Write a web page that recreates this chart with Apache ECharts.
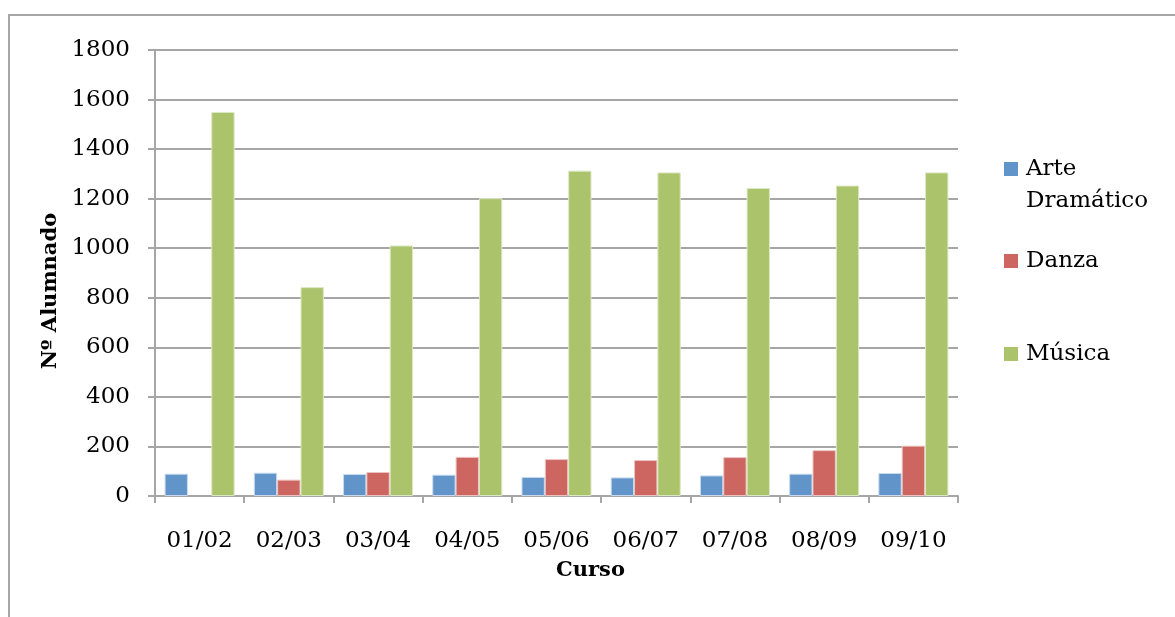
<!DOCTYPE html>
<html><head><meta charset="utf-8">
<script src="https://cdn.jsdelivr.net/npm/echarts@6/dist/echarts.min.js"></script>
<style>html,body{margin:0;padding:0;background:#fff}#c{width:1175px;height:617px}</style>
</head><body><div id="c"></div>
<script>
var categories = ['01/02','02/03','03/04','04/05','05/06','06/07','07/08','08/09','09/10'];
var arteDramatico = [90, 94, 89, 86, 77, 75, 83, 90, 93];
var danza = [null, 66, 97, 158, 149, 145, 157, 185, 203];
var musica = [1550, 843, 1011, 1202, 1313, 1306, 1243, 1253, 1306];
var yTicks = [0, 200, 400, 600, 800, 1000, 1200, 1400, 1600, 1800];

var FONT = 'DejaVu Serif';
var GRID = '#A6A6A6';
var chart = echarts.init(document.getElementById('c'));
var legends = [
  {data: ['Arte Dramático'], top: 121, lineHeight: 32},
  {data: ['Danza'], top: 247, lineHeight: 28},
  {data: ['Música'], top: 340, lineHeight: 28}
].map(function (l) {
  return {
    data: l.data, orient: 'vertical', left: 1004, top: l.top, padding: 0,
    itemWidth: 14, itemHeight: 14, icon: 'rect', selectedMode: false, itemGap: 0,
    itemStyle: {borderWidth: 0},
    formatter: function (n) { return n === 'Arte Dramático' ? '\nArte\nDramático' : n; },
    textStyle: {fontFamily: FONT, fontSize: 23, color: '#000', lineHeight: l.lineHeight, padding: [0, 0, 0, 3]}
  };
});
chart.setOption({
  animation: false,
  backgroundColor: '#fff',
  graphic: [{type: 'rect', shape: {x: 9, y: 15, width: 1300, height: 800}, style: {fill: 'none', stroke: GRID, lineWidth: 2}, silent: true}],
  grid: {left: 155, right: 217, top: 50, bottom: 121},
  legend: legends,
  xAxis: {
    type: 'category', data: categories,
    axisLine: {lineStyle: {color: GRID, width: 2}},
    axisTick: {show: true, length: 7, lineStyle: {color: GRID, width: 2}},
    axisLabel: {fontFamily: FONT, fontSize: 23, color: '#000', margin: 34},
    name: 'Curso', nameLocation: 'middle', nameGap: 64,
    nameTextStyle: {fontFamily: FONT, fontSize: 21, fontWeight: 'bold', color: '#000', padding: [0, 0, 0, 68]}
  },
  yAxis: {
    type: 'value', min: 0, max: 1800, interval: 200,
    axisLine: {show: true, lineStyle: {color: GRID, width: 2}},
    axisTick: {show: true, length: 7, lineStyle: {color: GRID, width: 2}},
    splitLine: {lineStyle: {color: GRID, width: 2}},
    axisLabel: {fontFamily: FONT, fontSize: 23, color: '#000', margin: 25,
      customValues: yTicks, formatter: function (v) { return String(v); }},
    name: 'Nº Alumnado', nameLocation: 'middle', nameGap: 90, nameRotate: 90,
    nameTextStyle: {fontFamily: FONT, fontSize: 21, fontWeight: 'bold', color: '#000', padding: [0, 36, 0, 0]}
  },
  series: [
    {name: 'Arte Dramático', type: 'bar', data: arteDramatico, barGap: '0%', barCategoryGap: '21.5%',
     itemStyle: {color: '#6195C9', borderColor: '#C9DAEE', borderWidth: 1}},
    {name: 'Danza', type: 'bar', data: danza, barGap: '0%', barCategoryGap: '21.5%',
     itemStyle: {color: '#CD6561', borderColor: '#EDC4C2', borderWidth: 1}},
    {name: 'Música', type: 'bar', data: musica, barGap: '0%', barCategoryGap: '21.5%',
     itemStyle: {color: '#ABC46C', borderColor: '#DCE7C4', borderWidth: 1}}
  ]
});
</script></body></html>
